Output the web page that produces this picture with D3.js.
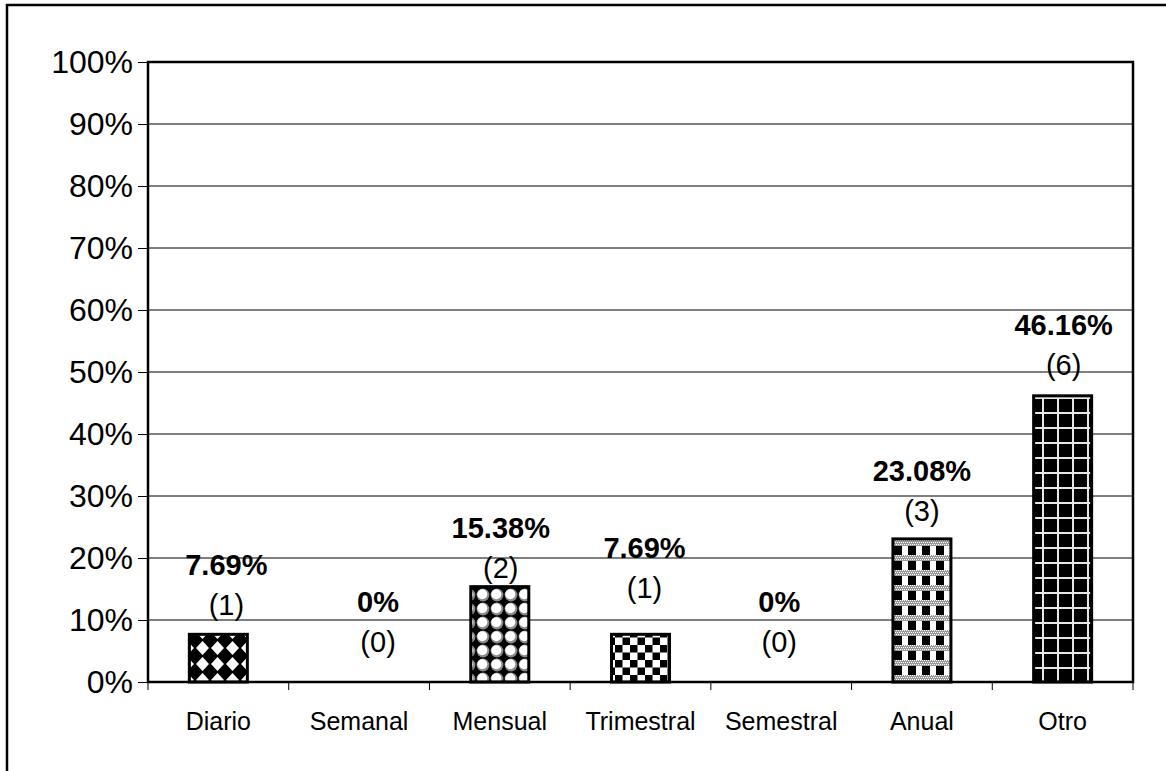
<!DOCTYPE html>
<html>
<head>
<meta charset="utf-8">
<script src="https://cdn.jsdelivr.net/npm/d3@7"></script>
<style>
  html, body { margin: 0; padding: 0; background: #fff; }
  svg { display: block; }
  text { font-family: Arial, "Liberation Sans", sans-serif; fill: #000; }
</style>
</head>
<body>
<svg id="chart" width="1166" height="771"></svg>
<script>
// Frequency categories and their share of responses
const categories = ["Diario", "Semanal", "Mensual", "Trimestral", "Semestral", "Anual", "Otro"];
const percentages = [7.69, 0, 15.38, 7.69, 0, 23.08, 46.16];
const counts = [1, 0, 2, 1, 0, 3, 6];
const percentLabels = ["7.69%", "0%", "15.38%", "7.69%", "0%", "23.08%", "46.16%"];
const yTicks = [0, 10, 20, 30, 40, 50, 60, 70, 80, 90, 100];

// Fill pattern per bar, plus the placement nudges of each label pair
const patternIds = ["pDiamond", "pNone", "pSphere", "pChecker", "pNone", "pPlaid", "pGrid"];
const labelLift = [19, 30, 9, 36, 30, 18, 21];
const labelShift = [8, 19, 1, 4, -2, 0, 1];

const svg = d3.select("#chart");
const margin = { left: 148, top: 62, right: 1133, bottom: 682 };

const x = d3.scaleBand().domain(categories).range([margin.left, margin.right]).paddingInner(0).paddingOuter(0);
const y = d3.scaleLinear().domain([0, 100]).range([margin.bottom, margin.top]);

// ---- patterns ----
const defs = svg.append("defs");
const T = 15;
const makePattern = (id, w, h) => defs.append("pattern").attr("id", id)
  .attr("patternUnits", "userSpaceOnUse").attr("width", w).attr("height", h);

// white diamonds on black
const pd = makePattern("pDiamond", T, 16);
pd.append("rect").attr("width", T).attr("height", 16).attr("fill", "#000");
pd.append("path").attr("d", `M${T/2},1 L${T-1},8 L${T/2},15 L1,8 Z`).attr("fill", "#fff");

// spheres
const ps = makePattern("pSphere", 14, 14);
ps.append("rect").attr("width", 14).attr("height", 14).attr("fill", "#000");
ps.append("circle").attr("cx", 7).attr("cy", 7).attr("r", 6.4).attr("fill", "#8a8a8a");
ps.append("circle").attr("cx", 6.3).attr("cy", 6.3).attr("r", 5).attr("fill", "#fff");

// large checkerboard
const pc = makePattern("pChecker", T, T);
pc.append("rect").attr("width", T).attr("height", T).attr("fill", "#fff");
pc.append("rect").attr("width", T/2).attr("height", T/2).attr("fill", "#000");
pc.append("rect").attr("x", T/2).attr("y", T/2).attr("width", T/2).attr("height", T/2).attr("fill", "#000");

// plaid: white stripes on black crossed by fine checked bands
const pp = makePattern("pPlaid", 14, 15);
pp.append("rect").attr("width", 14).attr("height", 15).attr("fill", "#000");
pp.append("rect").attr("x", 6).attr("width", 6).attr("height", 15).attr("fill", "#fff");
pp.append("rect").attr("y", 0).attr("width", 14).attr("height", 6).attr("fill", "#9a9a9a");
for (let i = 0; i < 7; i++) {
  for (let j = 0; j < 3; j++) {
    pp.append("rect").attr("x", i * 2 + (j % 2)).attr("y", j * 2).attr("width", 1).attr("height", 1)
      .attr("fill", "#fff");
  }
}

// large grid: light lines on black
const pg = makePattern("pGrid", T, T);
pg.append("rect").attr("width", T).attr("height", T).attr("fill", "#000");
pg.append("rect").attr("x", 7).attr("width", 2).attr("height", T).attr("fill", "#e6e6e6");
pg.append("rect").attr("y", 7).attr("width", T).attr("height", 2).attr("fill", "#e6e6e6");

// ---- outer frame ----
svg.append("rect").attr("x", 7).attr("y", 5).attr("width", 1200).attr("height", 900)
  .attr("fill", "none").attr("stroke", "#000").attr("stroke-width", 2.5);

// ---- gridlines ----
svg.append("g").selectAll("line").data(yTicks.filter(d => d > 0 && d < 100)).join("line")
  .attr("x1", margin.left).attr("x2", margin.right)
  .attr("y1", d => y(d)).attr("y2", d => y(d))
  .attr("stroke", "#000").attr("stroke-width", 1);

// ---- y axis ----
const yAxis = d3.axisLeft(y).tickValues(yTicks).tickFormat(d => d + "%").tickSize(10).tickPadding(5);
const gy = svg.append("g").attr("transform", `translate(${margin.left},0)`).call(yAxis);
gy.select(".domain").remove();
gy.selectAll(".tick line").attr("stroke", "#000").attr("stroke-width", 1);
gy.selectAll(".tick text").attr("font-size", 32).attr("font-family", "Arial, 'Liberation Sans', sans-serif").attr("fill", "#000");

// ---- x axis: ticks at category boundaries ----
const boundaries = categories.map(c => x(c)).concat([x.range()[1]]);
svg.append("g").selectAll("line").data(boundaries).join("line")
  .attr("x1", d => d).attr("x2", d => d).attr("y1", margin.bottom).attr("y2", margin.bottom + 8)
  .attr("stroke", "#000").attr("stroke-width", 1);
svg.append("g").selectAll("text").data(categories).join("text")
  .attr("x", d => x(d) + x.bandwidth() / 2).attr("y", 730)
  .attr("text-anchor", "middle").attr("font-size", 25).text(d => d);

// ---- bars ----
const barW = 58;
svg.append("g").selectAll("rect").data(categories).join("rect")
  .filter((d, i) => percentages[i] > 0)
  .attr("x", d => x(d) + (x.bandwidth() - barW) / 2)
  .attr("y", d => y(percentages[categories.indexOf(d)]))
  .attr("width", barW)
  .attr("height", d => margin.bottom - y(percentages[categories.indexOf(d)]))
  .attr("fill", d => `url(#${patternIds[categories.indexOf(d)]})`)
  .attr("stroke", "#000").attr("stroke-width", 3);

// ---- plot frame ----
svg.append("rect").attr("x", margin.left).attr("y", margin.top)
  .attr("width", margin.right - margin.left).attr("height", margin.bottom - margin.top)
  .attr("fill", "none").attr("stroke", "#000").attr("stroke-width", 2.5);

// ---- value labels ----
const lg = svg.append("g");
categories.forEach((c, i) => {
  const cx = x(c) + x.bandwidth() / 2 + labelShift[i];
  const base = y(percentages[i]) - labelLift[i];
  lg.append("text").attr("x", cx).attr("y", base).attr("text-anchor", "middle")
    .attr("font-size", 29).text(`(${counts[i]})`);
  lg.append("text").attr("x", cx).attr("y", base - 40).attr("text-anchor", "middle")
    .attr("font-size", 29).attr("font-weight", "bold").text(percentLabels[i]);
});
</script>
</body>
</html>
